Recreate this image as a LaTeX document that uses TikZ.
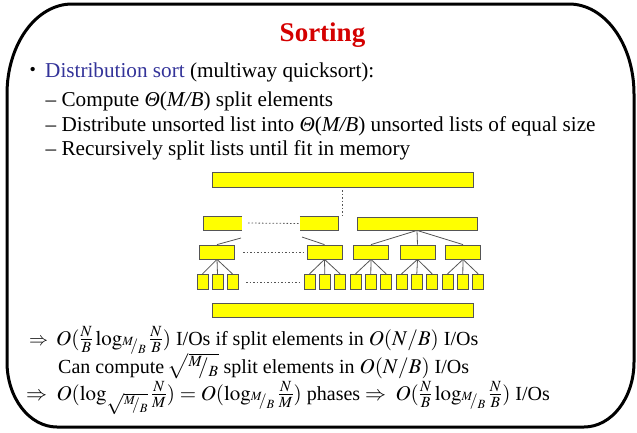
\documentclass[tikz,border=0pt]{standalone}
\usepackage{amsmath}
\usepackage{mathptmx}
\usepackage{fontspec}
\setmainfont{Liberation Serif}
\definecolor{titlered}{HTML}{D40000}
\definecolor{distblue}{HTML}{333399}
\definecolor{boxyellow}{HTML}{FFFF00}
\definecolor{boxedge}{HTML}{555555}
\newcommand\slf[2]{{}^{#1}\!\!/_{#2}}
\newcommand\mth[1]{{\fontsize{21}{25}\selectfont$#1$}}
\newcommand\smallimp{{\fontsize{19}{22}\selectfont$\Rightarrow$}}
\tikzset{
  txt/.style={anchor=base west, inner sep=0pt, font=\fontsize{21.2}{25}\selectfont},
  ftxt/.style={anchor=base west, inner sep=0pt, font=\fontsize{20}{24}\selectfont},
  ybox/.style={draw=boxedge, fill=boxyellow, line width=0.8pt, inner sep=0pt, minimum height=14pt},
  yfill/.style={fill=boxyellow, inner sep=0pt, minimum height=13pt},
  lvl3/.style={ybox, minimum width=35pt},
  leaf/.style={ybox, minimum width=11pt, minimum height=15pt},
  conn/.style={draw=boxedge, line width=0.8pt},
  dots/.style={draw=boxedge, line width=0.8pt, dash pattern=on 1.5pt off 2pt},
}
\begin{document}
\begin{tikzpicture}[x=1pt,y=-1pt]
\useasboundingbox (0,0) rectangle (637,432);
% frame
\draw[line width=3pt] (72,4) -- (569,4) .. controls (605,4) and (634,44.3) .. (634,94)
  -- (634,362) .. controls (634,397.9) and (611.6,427) .. (584,427)
  -- (57,427) .. controls (29.4,427) and (7,397.9) .. (7,362)
  -- (7,94) .. controls (7,44.3) and (36.1,4) .. (72,4) -- cycle;
% title and text
\node[anchor=base, inner sep=0pt, font=\fontsize{27}{31}\selectfont\bfseries, text=titlered] (title) at (322.5,41) {Sorting};
\node[txt, font=\fontsize{18}{20}\selectfont] (bul) at (29.5,75) {•};
\node[txt] (l1) at (45,77.5) {\textcolor{distblue}{Distribution sort} (multiway quicksort):};
\node[txt] (l2) at (45.5,106) {– Compute \textit{Θ}(\textit{M/B}) split elements};
\node[txt] (l3) at (45.5,131) {– Distribute unsorted list into \textit{Θ}(\textit{M/B}) unsorted lists of equal size};
\node[txt] (l4) at (45.5,155.5) {– Recursively split lists until fit in memory};
% diagram
\node[ybox, minimum width=261pt, minimum height=15pt] (top) at (342.5,179.5) {};
\node[ybox, minimum width=261pt] (bot) at (342.5,310) {};
\node[yfill, minimum width=38pt] (m1) at (223,223.5) {};
\draw[conn] (m1.north east) -- (m1.north west) -- (m1.south west) -- (m1.south east);
\node[yfill, minimum width=38pt] (m2) at (319,223.5) {};
\draw[conn] (m2.north west) -- (m2.north east) -- (m2.south east) -- (m2.south west);
\node[ybox, minimum width=120pt, minimum height=13pt] (m3) at (417,223.5) {};
\coordinate (v1) at (342,190);
\coordinate (v2) at (342,217);
\draw[dots] (v1) -- (v2);
\coordinate (d1a) at (248,223);
\draw[dots] (d1a) -- (m2.west);
% level 3
\node[lvl3] (a) at (217,252) {};
\node[lvl3] (b) at (324.5,252) {};
\node[lvl3] (c) at (371,252) {};
\node[lvl3] (d) at (417.5,252) {};
\node[lvl3] (e) at (463,252) {};
\coordinate (d2a) at (243,252);
\coordinate (d2b) at (305,252);
\draw[dots] (d2a) -- (d2b);
\coordinate (s1) at (241,238);
\coordinate (s2) at (302,237);
\draw[conn] (a.north) -- (s1);
\draw[conn] (b.north) -- (s2);
\foreach \k in {c,d,e} \draw[conn] (m3.south) -- (\k.north);
% leaves
\foreach \x [count=\i] in {202.5,217.5,232.5} \node[leaf] (la\i) at (\x,281.8) {};
\foreach \x [count=\i] in {309.5,324.8,340.2} \node[leaf] (lb\i) at (\x,281.8) {};
\foreach \x [count=\i] in {355.5,370.8,386.2} \node[leaf] (lc\i) at (\x,281.8) {};
\foreach \x [count=\i] in {401.5,416.8,432.2} \node[leaf] (ld\i) at (\x,281.8) {};
\foreach \x [count=\i] in {447.5,462.8,478.2} \node[leaf] (le\i) at (\x,281.8) {};
\foreach \p in {a,b,c,d,e} \foreach \i in {1,2,3} \draw[conn] (\p.south) -- (l\p\i.north);
\coordinate (d3a) at (246,282);
\coordinate (d3b) at (302,282);
\draw[dots] (d3a) -- (d3b);
% bottom formulas
\node[ftxt] (f1) at (29,345) {\smallimp\hspace{8pt}\mth{O(\tfrac{N}{B}\log_{\slf MB}\tfrac{N}{B})} I/Os if split elements in \mth{O(N/B)} I/Os};
\node[ftxt] (f2) at (58,373) {Can compute\,\mth{\sqrt{{}^{M}\!\!/_{B}}} split elements in \mth{O(N/B)} I/Os};
\node[ftxt] (f3) at (26,400) {\mth{\Rightarrow\; O(\log_{\sqrt{\slf MB}}\tfrac{N}{M}) = O(\log_{\slf MB}\tfrac{N}{M})} phases \mth{\Rightarrow\; O(\tfrac{N}{B}\log_{\slf MB}\tfrac{N}{B})} I/Os};
\end{tikzpicture}
\end{document}
